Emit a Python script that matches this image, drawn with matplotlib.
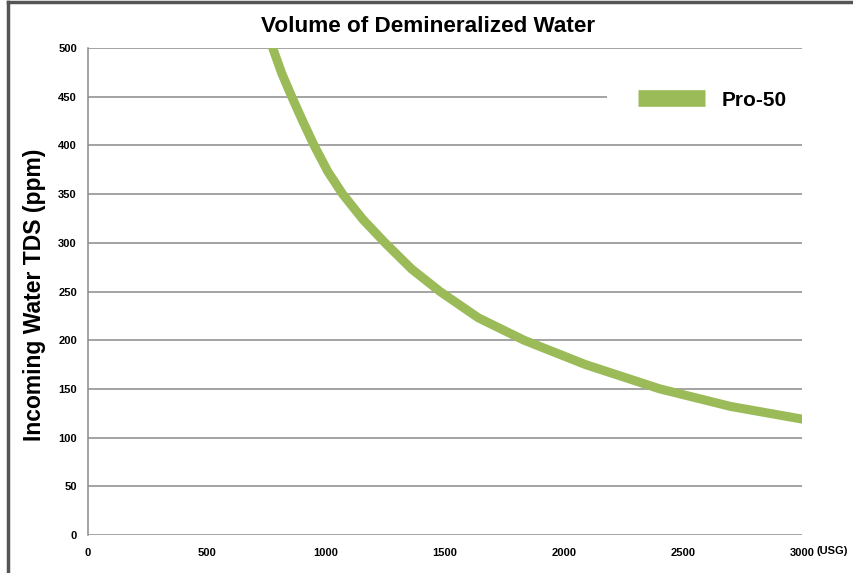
import matplotlib
matplotlib.use('Agg')
import matplotlib.pyplot as plt
from matplotlib.lines import Line2D

# values
volume = [776, 814, 856, 902, 950, 1008, 1070, 1155, 1248, 1360, 1479, 1640, 1832, 2090, 2403, 2700, 3000]
tds = [500, 474, 450, 425, 400, 373, 350, 324, 300, 273, 250, 223, 200, 175, 150, 132, 119]
x_ticks = [0, 500, 1000, 1500, 2000, 2500, 3000]
y_ticks = [0, 50, 100, 150, 200, 250, 300, 350, 400, 450, 500]

plt.rcParams['font.family'] = ['Liberation Sans', 'DejaVu Sans']
plt.rcParams['font.weight'] = 'bold'

fig = plt.figure(figsize=(8.54, 5.73), dpi=100)
ax = fig.add_axes([88/854, 1-535/573, (802-88)/854, (535-48)/573])

grid_c = '#8a8a8a'
for y in y_ticks:
    ax.axhline(y, color=grid_c, lw=1.1, zorder=1)

ax.plot(volume, tds, color='#9bbb59', lw=6.5, solid_capstyle='round',
        solid_joinstyle='round', label='Pro-50', zorder=3)

ax.set_xlim(0, 3000)
ax.set_ylim(0, 500)
ax.set_xticks(x_ticks)
ax.set_yticks(y_ticks)
ax.tick_params(length=0, labelsize=8)
ax.tick_params(axis='x', pad=9)
ax.tick_params(axis='y', pad=8)
for s in ['top', 'right', 'bottom']:
    ax.spines[s].set_visible(False)
ax.spines['left'].set_color(grid_c)
ax.spines['left'].set_linewidth(1.1)

fig.text(832/854, 1-551/573, '(USG)', ha='center', va='center', fontsize=8, fontweight='bold')

fig.text(428/854, 1-27/573, 'Volume of Demineralized Water', ha='center', va='center',
         fontsize=16.2, fontweight='bold')
fig.text(35/854, 1-295/573, 'Incoming Water TDS (ppm)', ha='center', va='center',
         rotation=90, fontsize=16.5, fontweight='bold')

leg = ax.legend(loc='center left', bbox_to_anchor=(607/854, 1-100/573),
                bbox_transform=fig.transFigure, borderaxespad=0, borderpad=1.5,
                handlelength=3.2, handletextpad=0.8, fontsize=15,
                frameon=True, facecolor='white', edgecolor='none', framealpha=1,
                fancybox=False)
leg.set_zorder(5)
for ln in leg.get_lines():
    ln.set_linewidth(12)
    ln.set_solid_capstyle('butt')

# screenshot border, top and left only
fig.add_artist(Line2D([8/854, 1], [1-2/573, 1-2/573], color='#555555', lw=2.5))
fig.add_artist(Line2D([8/854, 8/854], [0, 1-2/573], color='#555555', lw=2.5))

fig.savefig('out.png', dpi=100)
